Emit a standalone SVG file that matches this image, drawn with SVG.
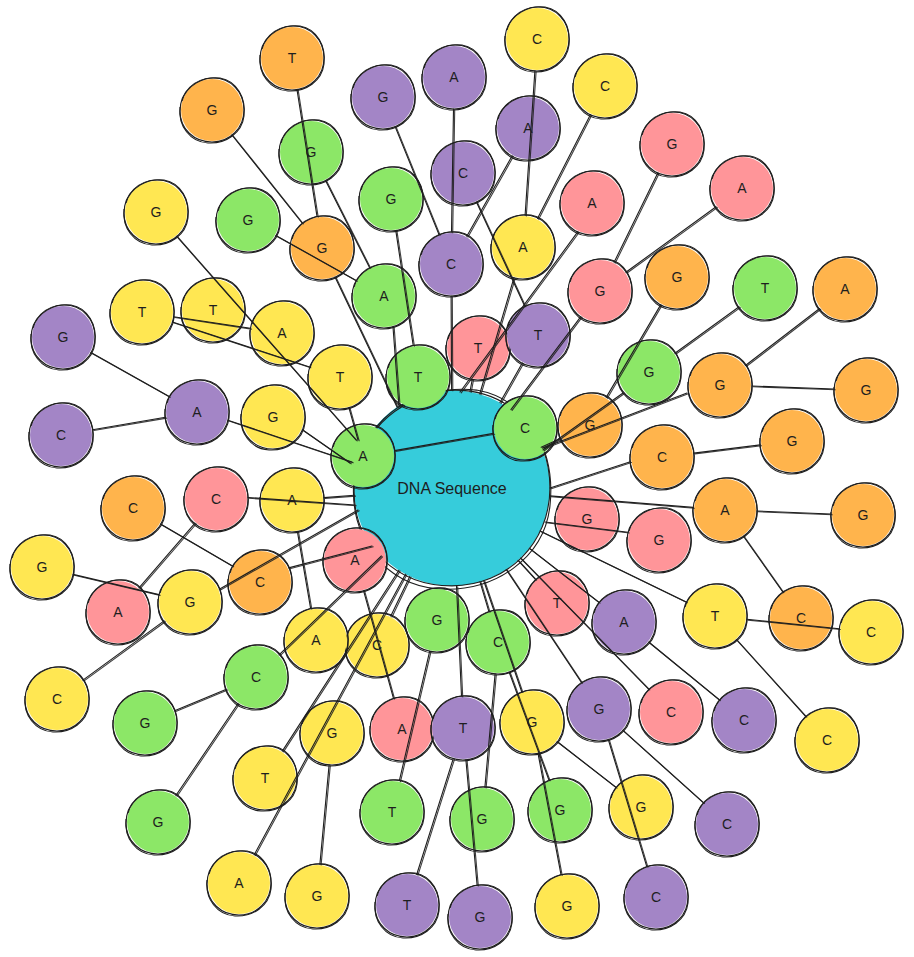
<svg xmlns="http://www.w3.org/2000/svg" xmlns:xlink="http://www.w3.org/1999/xlink" width="914" height="957" viewBox="0 0 914 957">
<style>
.nd circle{stroke:none}
.o circle{fill:#FFB44C}.g circle{fill:#8CE767}.p circle{fill:#A385C6}.y circle{fill:#FFE752}.k circle{fill:#FF9599}.c circle{fill:#36CCDB}
.ring path{fill:none;stroke:#1e1e1e;stroke-width:1.1;vector-effect:non-scaling-stroke}
text{font-family:"Liberation Sans","DejaVu Sans",sans-serif;font-size:14px;text-anchor:middle;fill:#1e1e1e}
#edges line{stroke:#1e1e1e;stroke-width:1.1;stroke-linecap:round}
</style>
<defs>
<g id="ring" class="ring">
<path d="M-32,1 C-32,-18 -17,-32 1,-32 C19,-32 32,-18 32,0 C32,18 18,32 0,32 C-18,32 -32,19 -32,1Z"/>
<path d="M-30,-9 C-26,-24 -9,-34 8,-32 C25,-29 34,-12 32,6 C30,23 14,34 -4,33 C-22,32 -34,16 -32,-3"/>
</g>
</defs>
<rect width="914" height="957" fill="#ffffff"/>
<g id="root" class="nd c" transform="translate(452,488)"><circle r="98"/><use href="#ring" transform="scale(3.06)"/><text y="6" style="font-size:16px">DNA Sequence</text></g>
<g id="n1" class="nd o" transform="translate(292,58)"><circle r="31"/><use href="#ring"/><text y="5">T</text></g>
<g id="n2" class="nd o" transform="translate(212,110)"><circle r="31"/><use href="#ring"/><text y="5">G</text></g>
<g id="n3" class="nd g" transform="translate(311,152)"><circle r="31"/><use href="#ring"/><text y="5">G</text></g>
<g id="n4" class="nd y" transform="translate(156,212)"><circle r="31"/><use href="#ring"/><text y="5">G</text></g>
<g id="n5" class="nd g" transform="translate(248,220)"><circle r="31"/><use href="#ring"/><text y="5">G</text></g>
<g id="n6" class="nd o" transform="translate(322,248)"><circle r="31"/><use href="#ring"/><text y="5">G</text></g>
<g id="n7" class="nd y" transform="translate(142,312)"><circle r="31"/><use href="#ring"/><text y="5">T</text></g>
<g id="n8" class="nd y" transform="translate(213,310)"><circle r="31"/><use href="#ring"/><text y="5">T</text></g>
<g id="n9" class="nd y" transform="translate(282,333)"><circle r="31"/><use href="#ring"/><text y="5">A</text></g>
<g id="n10" class="nd p" transform="translate(63,337)"><circle r="31"/><use href="#ring"/><text y="5">G</text></g>
<g id="n11" class="nd p" transform="translate(197,412)"><circle r="31"/><use href="#ring"/><text y="5">A</text></g>
<g id="n12" class="nd p" transform="translate(61,435)"><circle r="31"/><use href="#ring"/><text y="5">C</text></g>
<g id="n13" class="nd y" transform="translate(273,417)"><circle r="31"/><use href="#ring"/><text y="5">G</text></g>
<g id="n14" class="nd y" transform="translate(340,377)"><circle r="31"/><use href="#ring"/><text y="5">T</text></g>
<g id="n15" class="nd g" transform="translate(363,456)"><circle r="31"/><use href="#ring"/><text y="5">A</text></g>
<g id="n16" class="nd g" transform="translate(384,296)"><circle r="31"/><use href="#ring"/><text y="5">A</text></g>
<g id="n17" class="nd g" transform="translate(391,199)"><circle r="31"/><use href="#ring"/><text y="5">G</text></g>
<g id="n18" class="nd p" transform="translate(383,97)"><circle r="31"/><use href="#ring"/><text y="5">G</text></g>
<g id="n19" class="nd p" transform="translate(454,77)"><circle r="31"/><use href="#ring"/><text y="5">A</text></g>
<g id="n20" class="nd p" transform="translate(463,173)"><circle r="31"/><use href="#ring"/><text y="5">C</text></g>
<g id="n21" class="nd p" transform="translate(451,264)"><circle r="31"/><use href="#ring"/><text y="5">C</text></g>
<g id="n22" class="nd y" transform="translate(537,39)"><circle r="31"/><use href="#ring"/><text y="5">C</text></g>
<g id="n23" class="nd y" transform="translate(605,86)"><circle r="31"/><use href="#ring"/><text y="5">C</text></g>
<g id="n24" class="nd p" transform="translate(528,128)"><circle r="31"/><use href="#ring"/><text y="5">A</text></g>
<g id="n25" class="nd y" transform="translate(523,247)"><circle r="31"/><use href="#ring"/><text y="5">A</text></g>
<g id="n26" class="nd k" transform="translate(592,203)"><circle r="31"/><use href="#ring"/><text y="5">A</text></g>
<g id="n27" class="nd k" transform="translate(672,144)"><circle r="31"/><use href="#ring"/><text y="5">G</text></g>
<g id="n28" class="nd k" transform="translate(742,188)"><circle r="31"/><use href="#ring"/><text y="5">A</text></g>
<g id="n29" class="nd k" transform="translate(600,291)"><circle r="31"/><use href="#ring"/><text y="5">G</text></g>
<g id="n30" class="nd o" transform="translate(677,277)"><circle r="31"/><use href="#ring"/><text y="5">G</text></g>
<g id="n31" class="nd g" transform="translate(765,288)"><circle r="31"/><use href="#ring"/><text y="5">T</text></g>
<g id="n32" class="nd o" transform="translate(845,289)"><circle r="31"/><use href="#ring"/><text y="5">A</text></g>
<g id="n33" class="nd k" transform="translate(478,348)"><circle r="31"/><use href="#ring"/><text y="5">T</text></g>
<g id="n34" class="nd p" transform="translate(538,335)"><circle r="31"/><use href="#ring"/><text y="5">T</text></g>
<g id="n35" class="nd g" transform="translate(418,377)"><circle r="31"/><use href="#ring"/><text y="5">T</text></g>
<g id="n36" class="nd g" transform="translate(525,428)"><circle r="31"/><use href="#ring"/><text y="5">C</text></g>
<g id="n37" class="nd g" transform="translate(649,372)"><circle r="31"/><use href="#ring"/><text y="5">G</text></g>
<g id="n38" class="nd o" transform="translate(720,385)"><circle r="31"/><use href="#ring"/><text y="5">G</text></g>
<g id="n39" class="nd o" transform="translate(866,390)"><circle r="31"/><use href="#ring"/><text y="5">G</text></g>
<g id="n40" class="nd o" transform="translate(590,425)"><circle r="31"/><use href="#ring"/><text y="5">G</text></g>
<g id="n41" class="nd o" transform="translate(662,457)"><circle r="31"/><use href="#ring"/><text y="5">C</text></g>
<g id="n42" class="nd o" transform="translate(792,441)"><circle r="31"/><use href="#ring"/><text y="5">G</text></g>
<g id="n43" class="nd o" transform="translate(725,510)"><circle r="31"/><use href="#ring"/><text y="5">A</text></g>
<g id="n44" class="nd o" transform="translate(863,515)"><circle r="31"/><use href="#ring"/><text y="5">G</text></g>
<g id="n45" class="nd k" transform="translate(587,519)"><circle r="31"/><use href="#ring"/><text y="5">G</text></g>
<g id="n46" class="nd k" transform="translate(659,540)"><circle r="31"/><use href="#ring"/><text y="5">G</text></g>
<g id="n47" class="nd k" transform="translate(557,603)"><circle r="31"/><use href="#ring"/><text y="5">T</text></g>
<g id="n48" class="nd p" transform="translate(624,622)"><circle r="31"/><use href="#ring"/><text y="5">A</text></g>
<g id="n49" class="nd y" transform="translate(715,616)"><circle r="31"/><use href="#ring"/><text y="5">T</text></g>
<g id="n50" class="nd o" transform="translate(801,618)"><circle r="31"/><use href="#ring"/><text y="5">C</text></g>
<g id="n51" class="nd y" transform="translate(871,632)"><circle r="31"/><use href="#ring"/><text y="5">C</text></g>
<g id="n52" class="nd k" transform="translate(671,712)"><circle r="31"/><use href="#ring"/><text y="5">C</text></g>
<g id="n53" class="nd p" transform="translate(744,720)"><circle r="31"/><use href="#ring"/><text y="5">C</text></g>
<g id="n54" class="nd y" transform="translate(827,740)"><circle r="31"/><use href="#ring"/><text y="5">C</text></g>
<g id="n55" class="nd p" transform="translate(599,709)"><circle r="31"/><use href="#ring"/><text y="5">G</text></g>
<g id="n56" class="nd y" transform="translate(641,807)"><circle r="31"/><use href="#ring"/><text y="5">G</text></g>
<g id="n57" class="nd p" transform="translate(727,824)"><circle r="31"/><use href="#ring"/><text y="5">C</text></g>
<g id="n58" class="nd p" transform="translate(656,897)"><circle r="31"/><use href="#ring"/><text y="5">C</text></g>
<g id="n59" class="nd y" transform="translate(567,906)"><circle r="31"/><use href="#ring"/><text y="5">G</text></g>
<g id="n60" class="nd g" transform="translate(560,810)"><circle r="31"/><use href="#ring"/><text y="5">G</text></g>
<g id="n61" class="nd y" transform="translate(532,722)"><circle r="31"/><use href="#ring"/><text y="5">G</text></g>
<g id="n62" class="nd g" transform="translate(498,642)"><circle r="31"/><use href="#ring"/><text y="5">C</text></g>
<g id="n63" class="nd g" transform="translate(437,620)"><circle r="31"/><use href="#ring"/><text y="5">G</text></g>
<g id="n64" class="nd y" transform="translate(377,645)"><circle r="31"/><use href="#ring"/><text y="5">C</text></g>
<g id="n65" class="nd y" transform="translate(316,640)"><circle r="31"/><use href="#ring"/><text y="5">A</text></g>
<g id="n66" class="nd k" transform="translate(355,560)"><circle r="31"/><use href="#ring"/><text y="5">A</text></g>
<g id="n67" class="nd o" transform="translate(260,582)"><circle r="31"/><use href="#ring"/><text y="5">C</text></g>
<g id="n68" class="nd y" transform="translate(292,500)"><circle r="31"/><use href="#ring"/><text y="5">A</text></g>
<g id="n69" class="nd k" transform="translate(216,499)"><circle r="31"/><use href="#ring"/><text y="5">C</text></g>
<g id="n70" class="nd o" transform="translate(133,508)"><circle r="31"/><use href="#ring"/><text y="5">C</text></g>
<g id="n71" class="nd y" transform="translate(42,567)"><circle r="31"/><use href="#ring"/><text y="5">G</text></g>
<g id="n72" class="nd k" transform="translate(118,612)"><circle r="31"/><use href="#ring"/><text y="5">A</text></g>
<g id="n73" class="nd y" transform="translate(190,602)"><circle r="31"/><use href="#ring"/><text y="5">G</text></g>
<g id="n74" class="nd y" transform="translate(57,699)"><circle r="31"/><use href="#ring"/><text y="5">C</text></g>
<g id="n75" class="nd g" transform="translate(256,677)"><circle r="31"/><use href="#ring"/><text y="5">C</text></g>
<g id="n76" class="nd g" transform="translate(145,723)"><circle r="31"/><use href="#ring"/><text y="5">G</text></g>
<g id="n77" class="nd g" transform="translate(158,822)"><circle r="31"/><use href="#ring"/><text y="5">G</text></g>
<g id="n78" class="nd y" transform="translate(265,778)"><circle r="31"/><use href="#ring"/><text y="5">T</text></g>
<g id="n79" class="nd y" transform="translate(332,733)"><circle r="31"/><use href="#ring"/><text y="5">G</text></g>
<g id="n80" class="nd k" transform="translate(402,729)"><circle r="31"/><use href="#ring"/><text y="5">A</text></g>
<g id="n81" class="nd p" transform="translate(463,728)"><circle r="31"/><use href="#ring"/><text y="5">T</text></g>
<g id="n82" class="nd g" transform="translate(392,812)"><circle r="31"/><use href="#ring"/><text y="5">T</text></g>
<g id="n83" class="nd g" transform="translate(482,819)"><circle r="31"/><use href="#ring"/><text y="5">G</text></g>
<g id="n84" class="nd y" transform="translate(239,883)"><circle r="31"/><use href="#ring"/><text y="5">A</text></g>
<g id="n85" class="nd y" transform="translate(317,896)"><circle r="31"/><use href="#ring"/><text y="5">G</text></g>
<g id="n86" class="nd p" transform="translate(407,905)"><circle r="31"/><use href="#ring"/><text y="5">T</text></g>
<g id="n87" class="nd p" transform="translate(480,917)"><circle r="31"/><use href="#ring"/><text y="5">G</text></g>
<g id="edges">
<g id="eset">
<line x1="297" y1="89.6" x2="317" y2="216.4"/>
<line x1="231.9" y1="135" x2="302.1" y2="223"/>
<line x1="275.9" y1="235.6" x2="356.1" y2="280.4"/>
<line x1="325.5" y1="180.5" x2="369.5" y2="267.5"/>
<line x1="335" y1="277" x2="397" y2="407"/>
<line x1="393" y1="327" x2="399" y2="407"/>
<line x1="395.8" y1="230.6" x2="413.2" y2="345.4"/>
<line x1="453.5" y1="109" x2="451.5" y2="232"/>
<line x1="512.2" y1="155.8" x2="466.8" y2="236.2"/>
<line x1="395.1" y1="126.6" x2="438.9" y2="234.4"/>
<line x1="451.1" y1="296" x2="451.6" y2="390"/>
<line x1="534.9" y1="70.9" x2="525.1" y2="215.1"/>
<line x1="590.5" y1="114.5" x2="537.5" y2="218.5"/>
<line x1="514" y1="277.7" x2="479.7" y2="394"/>
<line x1="476.4" y1="202.1" x2="524.6" y2="305.9"/>
<line x1="577.9" y1="231.7" x2="460" y2="392"/>
<line x1="657.9" y1="172.7" x2="614.1" y2="262.3"/>
<line x1="716.1" y1="206.8" x2="625.9" y2="272.2"/>
<line x1="580.8" y1="316.6" x2="510.9" y2="409.6"/>
<line x1="739.1" y1="306.8" x2="674.9" y2="353.2"/>
<line x1="819.6" y1="308.5" x2="745.4" y2="365.5"/>
<line x1="660.8" y1="304.6" x2="606.2" y2="397.4"/>
<line x1="623" y1="393" x2="543" y2="450"/>
<line x1="687" y1="393" x2="543" y2="448"/>
<line x1="834" y1="389" x2="752" y2="386"/>
<line x1="760.3" y1="444.9" x2="693.7" y2="453.1"/>
<line x1="630.3" y1="461.7" x2="550" y2="488"/>
<line x1="831" y1="514" x2="757" y2="511"/>
<line x1="693.1" y1="507.4" x2="549.7" y2="495.9"/>
<line x1="743.4" y1="536.2" x2="782.6" y2="591.8"/>
<line x1="746.8" y1="619.3" x2="839.2" y2="628.7"/>
<line x1="628" y1="532.2" x2="545" y2="522"/>
<line x1="686.2" y1="602" x2="540.1" y2="530.9"/>
<line x1="805.6" y1="716.3" x2="736.4" y2="639.7"/>
<line x1="648.6" y1="689.1" x2="520.5" y2="558.1"/>
<line x1="598.8" y1="602.3" x2="529.3" y2="548.3"/>
<line x1="648.8" y1="642.2" x2="719.2" y2="699.8"/>
<line x1="581.3" y1="682.3" x2="506.3" y2="569.6"/>
<line x1="622.8" y1="730.4" x2="703.2" y2="802.6"/>
<line x1="608.3" y1="739.6" x2="646.7" y2="866.4"/>
<line x1="557.2" y1="741.7" x2="615.8" y2="787.3"/>
<line x1="495.1" y1="673.9" x2="484.9" y2="787.1"/>
<line x1="509.1" y1="672" x2="548.9" y2="780"/>
<line x1="521.7" y1="691.7" x2="483.7" y2="580.7"/>
<line x1="538" y1="753.4" x2="561" y2="874.6"/>
<line x1="461.5" y1="696" x2="456.5" y2="585.9"/>
<line x1="453.3" y1="758.5" x2="416.7" y2="874.5"/>
<line x1="465.9" y1="759.9" x2="477.1" y2="885.1"/>
<line x1="429.7" y1="651.2" x2="399.3" y2="780.8"/>
<line x1="248" y1="497.5" x2="355" y2="505"/>
<line x1="160.6" y1="524.1" x2="232.4" y2="565.9"/>
<line x1="288.7" y1="567.9" x2="372" y2="546"/>
<line x1="219.3" y1="589.2" x2="358" y2="510"/>
<line x1="73.1" y1="574.4" x2="158.9" y2="594.6"/>
<line x1="195" y1="523.2" x2="139" y2="587.8"/>
<line x1="82.9" y1="680.1" x2="164.1" y2="620.9"/>
<line x1="297.4" y1="531.6" x2="310.6" y2="608.4"/>
<line x1="279" y1="654.8" x2="381.4" y2="556"/>
<line x1="174.6" y1="710.7" x2="226.4" y2="689.3"/>
<line x1="175.9" y1="795.5" x2="238.1" y2="703.5"/>
<line x1="282.3" y1="751.1" x2="398.9" y2="570.3"/>
<line x1="254.2" y1="854.8" x2="405.5" y2="574.2"/>
<line x1="319.9" y1="864.1" x2="329.1" y2="764.9"/>
<line x1="363.6" y1="590.8" x2="393.4" y2="698.2"/>
<line x1="90.9" y1="352.6" x2="169.1" y2="396.4"/>
<line x1="92.6" y1="429.7" x2="165.4" y2="417.3"/>
<line x1="227.9" y1="420.2" x2="352" y2="462"/>
<line x1="302.3" y1="429.7" x2="350" y2="463"/>
<line x1="348.9" y1="407.7" x2="358" y2="440"/>
<line x1="176.7" y1="236.4" x2="356" y2="440"/>
<line x1="173.6" y1="316.7" x2="250.4" y2="328.3"/>
<line x1="172.4" y1="322" x2="309.6" y2="367"/>
<line x1="394.5" y1="450.6" x2="493.5" y2="433.4"/>
<line x1="522.3" y1="362.9" x2="500" y2="402.6"/>
<line x1="472.2" y1="379.5" x2="470" y2="391.7"/>
<line x1="560.9" y1="438.3" x2="541.2" y2="447.3"/>
<line x1="535.4" y1="579.4" x2="518" y2="560.4"/>
<line x1="488.8" y1="611.3" x2="480" y2="581.9"/>
<line x1="390.8" y1="616.1" x2="409.8" y2="576.4"/>
<line x1="324" y1="497.6" x2="354.3" y2="495.3"/>
</g>
<use href="#eset" transform="translate(1.2,0.8)" opacity="0.85"/>
</g>
</svg>
